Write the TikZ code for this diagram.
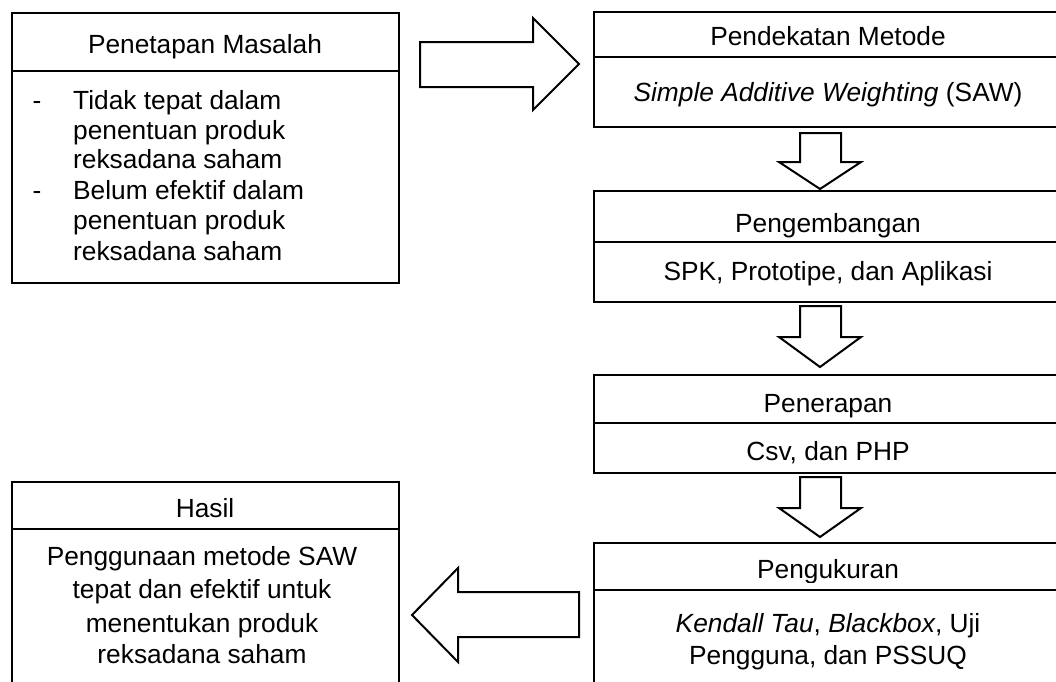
\documentclass[tikz,border=0pt]{standalone}
\usepackage{fontspec}
\setmainfont{Liberation Sans}
\newcommand\diagfs{\fontsize{26.3pt}{31pt}\selectfont}
\begin{document}
\begin{tikzpicture}[x=1pt,y=-1pt,
  box/.style={draw, line width=2.4pt},
  barrow/.style={draw, line width=2pt, line join=miter, fill=white},
  txt/.style={anchor=base, inner sep=0pt, font=\diagfs},
  ltxt/.style={anchor=base west, inner sep=0pt, font=\diagfs}]
\useasboundingbox (0,0) rectangle (1056,681);
\clip (0,0) rectangle (1056,681);

% Penetapan Masalah
\draw[box] (12,13) rectangle (399,283);
\draw[box] (12,71) -- (399,71);
\node[txt] (pm) at (205,53) {Penetapan Masalah};
\node[txt] (d1) at (37,109) {-};
\node[ltxt] (l1) at (73,109) {Tidak tepat dalam};
\node[ltxt] (l2) at (73,139) {penentuan produk};
\node[ltxt] (l3) at (73,168) {reksadana saham};
\node[txt] (d2) at (37,199) {-};
\node[ltxt] (l4) at (73,199) {Belum efektif dalam};
\node[ltxt] (l5) at (73,229) {penentuan produk};
\node[ltxt] (l6) at (73,260) {reksadana saham};

% right block arrow
\draw[barrow] (420,42) -- (533,42) -- (533,18) -- (579,64) -- (533,110) -- (533,87) -- (420,87) -- cycle;

% Pendekatan Metode
\draw[box] (594,12) rectangle (1064,127);
\draw[box] (594,57) -- (1064,57);
\node[txt] (pmh) at (828,45) {Pendekatan Metode};
\node[txt] (pmb) at (828,101) {\itshape Simple Additive Weighting\upshape\ (SAW)};

% down arrow 1
\draw[barrow] (800,133) -- (841,133) -- (841,162) -- (861,162) -- (820,189) -- (779,162) -- (800,162) -- cycle;

% Pengembangan
\draw[box] (594,191) rectangle (1064,302);
\draw[box] (594,242) -- (1064,242);
\node[txt] (pgh) at (828,232) {Pengembangan};
\node[txt] (pgb) at (828,280) {SPK, Prototipe, dan Aplikasi};

% down arrow 2
\draw[barrow] (800,306) -- (841,306) -- (841,337) -- (861,337) -- (820,367) -- (779,337) -- (800,337) -- cycle;

% Penerapan
\draw[box] (594,375) rectangle (1064,473);
\draw[box] (594,423) -- (1064,423);
\node[txt] (prh) at (828,412) {Penerapan};
\node[txt] (prb) at (828,460) {Csv, dan PHP};

% down arrow 3
\draw[barrow] (800,477) -- (841,477) -- (841,508) -- (861,508) -- (820,537) -- (779,508) -- (800,508) -- cycle;

% Pengukuran
\draw[box] (594,543) rectangle (1064,700);
\draw[box] (594,590) -- (1064,590);
\begin{scope}
\clip (594,543) rectangle (1064,582.5);
\node[txt] (pkh) at (828,578) {Pengukuran};
\end{scope}
\node[txt] (pkb1) at (828,632) {\textit{Kendall Tau}, \textit{Blackbox}, Uji};
\node[txt] (pkb2) at (828,664) {Pengguna, dan PSSUQ};

% left block arrow
\draw[barrow] (579,592) -- (458,592) -- (458,568) -- (412,615) -- (458,662) -- (458,637) -- (579,637) -- cycle;

% Hasil
\draw[box] (12,482) rectangle (399,700);
\draw[box] (12,529) -- (399,529);
\node[txt] (hh) at (205,517) {Hasil};
\node[txt] (hb1) at (202,565) {Penggunaan metode SAW};
\node[txt] (hb2) at (202,598) {tepat dan efektif untuk};
\node[txt] (hb3) at (202,632) {menentukan produk};
\node[txt] (hb4) at (202,663) {reksadana saham};
\end{tikzpicture}
\end{document}
